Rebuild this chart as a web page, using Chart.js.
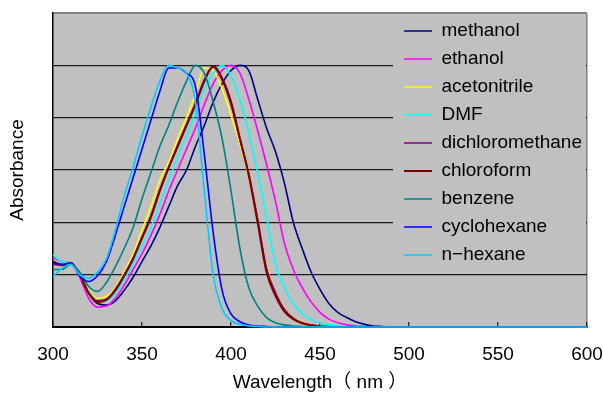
<!DOCTYPE html>
<html lang="en">
  <head>
    <meta charset="UTF-8" />
    <title>Absorbance spectra</title>
    <script src="https://cdn.jsdelivr.net/npm/chart.js@4.4.0/dist/chart.umd.min.js"></script>
    <style>
      html, body { margin: 0; padding: 0; background: #fff; }
    </style>
  </head>
  <body>
    <canvas id="spectraChart" width="603" height="397"></canvas>
    <script>
      // wavelength (nm), 5 nm steps then flat to 600
      var wavelengths = [300, 305, 310, 315, 320, 325, 330, 335, 340, 345,
        350, 355, 360, 365, 370, 375, 380, 385, 390, 395,
        400, 405, 410, 415, 420, 425, 430, 435, 440, 445,
        450, 455, 460, 465, 470, 475, 480, 485, 490, 495, 500, 600];

      var methanol = [1.22, 1.2, 1.22, 1.0, 0.65, 0.45, 0.42, 0.5, 0.7, 0.95,
        1.25, 1.55, 1.9, 2.3, 2.7, 3.0, 3.45, 3.85, 4.3, 4.65,
        4.9, 5.0, 4.9, 4.35, 3.8, 3.35, 2.75, 2.0, 1.5, 1.05,
        0.72, 0.45, 0.28, 0.18, 0.1, 0.05, 0.02, 0.01, 0, 0, 0, 0];
      var ethanol = [1.33, 1.25, 1.22, 0.95, 0.55, 0.38, 0.4, 0.55, 0.8, 1.1,
        1.4, 1.75, 2.15, 2.6, 3.0, 3.4, 3.8, 4.25, 4.65, 4.9,
        5.0, 4.85, 4.35, 3.75, 3.1, 2.4, 1.6, 1.1, 0.75, 0.48,
        0.28, 0.15, 0.08, 0.04, 0.02, 0.01, 0, 0, 0, 0, 0, 0];
      var acetonitrile = [1.2, 1.2, 1.22, 1.0, 0.7, 0.55, 0.58, 0.75, 1.05, 1.4,
        1.85, 2.3, 2.8, 3.15, 3.6, 4.0, 4.45, 4.95, 4.9, 4.55,
        4.05, 3.5, 2.85, 2.0, 1.15, 0.65, 0.35, 0.18, 0.09, 0.04,
        0.02, 0.01, 0, 0, 0, 0, 0, 0, 0, 0, 0, 0];
      var dmf = [1.38, 1.25, 1.22, 1.0, 0.68, 0.5, 0.5, 0.65, 0.9, 1.2,
        1.55, 1.9, 2.35, 2.8, 3.25, 3.65, 4.1, 4.55, 4.85, 5.0,
        4.8, 4.35, 3.7, 2.95, 2.1, 1.2, 0.75, 0.45, 0.26, 0.14,
        0.07, 0.04, 0.02, 0.01, 0, 0, 0, 0, 0, 0, 0, 0];
      var dichloromethane = [1.2, 1.18, 1.2, 1.0, 0.66, 0.5, 0.53, 0.72, 1.0, 1.32,
        1.72, 2.12, 2.62, 3.05, 3.47, 3.87, 4.27, 4.72, 4.97, 4.72,
        4.25, 3.58, 2.92, 2.05, 1.12, 0.66, 0.34, 0.17, 0.08, 0.04,
        0.02, 0.01, 0, 0, 0, 0, 0, 0, 0, 0, 0, 0];
      var chloroform = [1.25, 1.18, 1.22, 1.0, 0.65, 0.48, 0.52, 0.7, 0.98, 1.3,
        1.7, 2.1, 2.6, 3.05, 3.45, 3.85, 4.25, 4.7, 4.98, 4.75,
        4.3, 3.6, 2.9, 2.0, 1.05, 0.6, 0.3, 0.15, 0.07, 0.03,
        0.01, 0, 0, 0, 0, 0, 0, 0, 0, 0, 0, 0];
      var benzene = [1.1, 1.1, 1.2, 1.05, 0.78, 0.68, 0.85, 1.15, 1.5, 1.9,
        2.45, 2.95, 3.45, 3.85, 4.3, 4.7, 5.0, 4.85, 4.3, 3.6,
        2.6, 1.5, 0.75, 0.4, 0.18, 0.08, 0.04, 0.02, 0.01, 0,
        0, 0, 0, 0, 0, 0, 0, 0, 0, 0, 0, 0];
      var cyclohexane = [1.22, 1.2, 1.22, 0.98, 0.87, 0.98, 1.25, 1.75, 2.3, 2.85,
        3.4, 3.95, 4.5, 4.95, 4.95, 4.85, 4.6, 3.3, 1.8, 0.7,
        0.25, 0.1, 0.04, 0.02, 0.01, 0, 0, 0, 0, 0,
        0, 0, 0, 0, 0, 0, 0, 0, 0, 0, 0, 0];
      var nHexane = [0.96, 1.12, 1.2, 1.0, 0.93, 1.05, 1.3, 1.85, 2.5, 3.05,
        3.65, 4.2, 4.7, 5.0, 4.95, 4.85, 4.3, 2.6, 1.0, 0.35,
        0.12, 0.05, 0.02, 0.01, 0, 0, 0, 0, 0, 0,
        0, 0, 0, 0, 0, 0, 0, 0, 0, 0, 0, 0];

      var solventNames = ["methanol", "ethanol", "acetonitrile", "DMF", "dichloromethane",
        "chloroform", "benzene", "cyclohexane", "n−hexane"];
      var seriesValues = [methanol, ethanol, acetonitrile, dmf, dichloromethane,
        chloroform, benzene, cyclohexane, nHexane];
      var xTicks = [300, 350, 400, 450, 500, 550, 600];

      var lineColors = ["#000080", "#ff00ff", "#ffff00", "#00ffff", "#800080",
        "#800000", "#008080", "#0000ff", "#00ccff"];
      var lineWidths = [1.6, 1.6, 1.6, 1.6, 1.6, 2.2, 1.6, 1.6, 1.6];
      var fontFamily = '"Liberation Sans", "Noto Sans CJK JP", sans-serif';

      // grey plot area like the spreadsheet chart
      var plotBackground = {
        id: "plotBackground",
        beforeDraw: function (chart) {
          var ca = chart.chartArea;
          var ctx = chart.ctx;
          ctx.save();
          ctx.fillStyle = "#c0c0c0";
          ctx.fillRect(ca.left, ca.top, ca.right - ca.left, ca.bottom - ca.top);
          ctx.restore();
        }
      };

      // move the legend to the upper right inside the plot, on its own grey box
      var legendInside = {
        id: "legendInside",
        afterLayout: function (chart) {
          var lg = chart.legend;
          var ca = chart.chartArea;
          lg.left = ca.right - 192;
          lg.right = ca.right;
          lg.top = ca.top - 0.5;
          lg.bottom = ca.bottom;
          lg.width = lg.right - lg.left;
          lg.height = lg.bottom - lg.top;
        },
        afterDatasetsDraw: function (chart) {
          var ca = chart.chartArea;
          var ctx = chart.ctx;
          ctx.save();
          ctx.fillStyle = "#c0c0c0";
          ctx.fillRect(ca.right - 194, ca.top + 1, 193, 256);
          ctx.restore();
          chart.legend.draw();
        }
      };

      var datasets = solventNames.map(function (name, i) {
        return {
          label: name,
          data: seriesValues[i],
          borderColor: lineColors[i],
          backgroundColor: lineColors[i],
          borderWidth: lineWidths[i],
          pointRadius: 0,
          fill: false,
          cubicInterpolationMode: "monotone",
          order: solventNames.length - i,
          clip: 4
        };
      });

      var ctx = document.getElementById("spectraChart").getContext("2d");
      var spectraChart = new Chart(ctx, {
        type: "line",
        data: { labels: wavelengths, datasets: datasets },
        plugins: [plotBackground, legendInside],
        options: {
          responsive: false,
          animation: false,
          layout: { padding: { top: 13, right: 16, bottom: 0, left: 0 } },
          plugins: {
            tooltip: { enabled: false },
            legend: {
              position: "chartArea",
              align: "start",
              labels: {
                color: "#000",
                font: { family: fontFamily, size: 19 },
                usePointStyle: true,
                pointStyle: "line",
                pointStyleWidth: 28,
                padding: 9,
                sort: function (a, b) { return a.datasetIndex - b.datasetIndex; }
              }
            }
          },
          scales: {
            x: {
              type: "linear",
              min: 300,
              max: 600,
              afterBuildTicks: function (axis) {
                axis.ticks = xTicks.map(function (v) { return { value: v }; });
              },
              afterFit: function (axis) {
                axis.height = 70;
                axis.paddingLeft = 0;
                axis.paddingRight = 0;
              },
              grid: {
                color: function (c) { return c.tick && c.tick.value === 600 ? "#808080" : "rgba(0,0,0,0)"; },
                lineWidth: 1.5,
                tickColor: "#000",
                tickLength: -5,
                tickWidth: 1
              },
              border: { color: "#000", width: 2 },
              ticks: { color: "#000", font: { family: fontFamily, size: 19 }, padding: 21, maxRotation: 0 },
              title: { display: true, text: "Wavelength（ nm ）", color: "#000", font: { family: fontFamily, size: 19 }, padding: 2.5 }
            },
            y: {
              min: 0,
              max: 6,
              afterFit: function (axis) { axis.width = 53; },
              ticks: { display: false, stepSize: 1 },
              grid: {
                color: function (c) { return c.tick && c.tick.value === 6 ? "#808080" : "#1a1a1a"; },
                lineWidth: function (c) { return c.tick && c.tick.value === 6 ? 2 : 1.2; },
                drawTicks: false
              },
              border: { color: "#000", width: 1.5 },
              title: { display: true, text: "Absorbance", color: "#000", font: { family: fontFamily, size: 19 }, padding: 6.5 }
            }
          }
        }
      });
    </script>
  </body>
</html>
